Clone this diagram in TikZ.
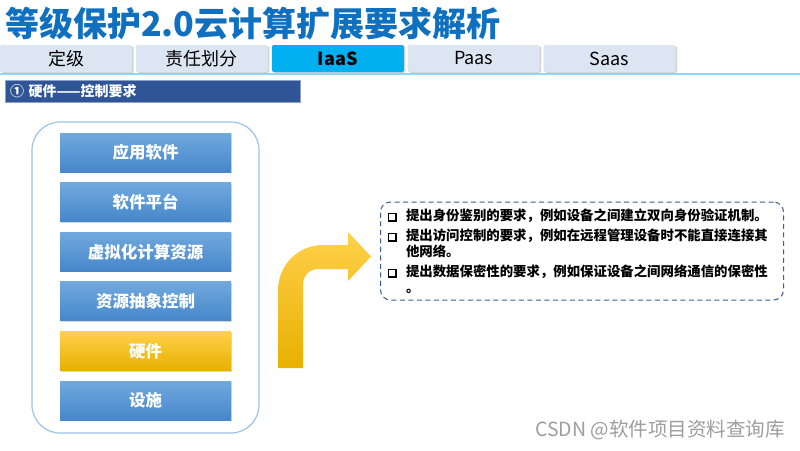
\documentclass[tikz,border=0pt]{standalone}
\usepackage{fontspec}
\setmainfont{Noto Sans CJK SC}
\usepackage{xcolor}
\usetikzlibrary{positioning, shadows}

\definecolor{titleblue}{RGB}{16,112,192}
\definecolor{tabgray}{RGB}{220,230,242}
\definecolor{tabcyan}{RGB}{0,176,240}
\definecolor{tabline}{RGB}{146,213,243}
\definecolor{secblue}{RGB}{47,85,151}
\definecolor{frameblue}{RGB}{157,195,230}
\definecolor{laytop}{RGB}{113,169,222}
\definecolor{laybot}{RGB}{70,134,202}
\definecolor{hottop}{RGB}{255,208,75}
\definecolor{hotbot}{RGB}{232,176,0}
\definecolor{dashblue}{RGB}{62,92,140}

\newcommand{\sqb}{\makebox[18pt][l]{\raisebox{-0.2pt}{\setlength{\fboxsep}{0pt}\setlength{\fboxrule}{1.4pt}\fbox{\rule{0pt}{6pt}\hspace{6pt}}}}}

\tikzset{
    tab/.style={rectangle, fill=tabgray, rounded corners=1.5pt, minimum width=132pt, minimum height=27pt, inner sep=0pt, text=black, font=\fontsize{18}{18}\selectfont, drop shadow={opacity=0.35, shadow xshift=1.5pt, shadow yshift=-1pt}},
    tabon/.style={tab, fill=tabcyan, font=\bfseries\fontsize{18}{18}\selectfont},
    secbar/.style={rectangle, fill=secblue, draw=secblue!55!white, minimum width=295pt, minimum height=22pt, text width=285pt, inner xsep=5pt, align=left, text=white, font=\bfseries\fontsize{14}{14}\selectfont},
    layer/.style={rectangle, top color=laytop, bottom color=laybot, draw=none, minimum width=171pt, minimum height=39pt, text=white, font=\bfseries\fontsize{16.5}{16.5}\selectfont, drop shadow={opacity=0.3, shadow xshift=0.8pt, shadow yshift=-1.2pt}},
    hot/.style={top color=hottop, bottom color=hotbot},
    stackframe/.style={rectangle, draw=frameblue, line width=1.2pt, fill=white, rounded corners=28pt, minimum width=227pt, minimum height=311pt},
    reqbox/.style={rectangle, draw=dashblue, line width=1pt, dash pattern=on 5pt off 3.5pt, rounded corners=10pt, minimum width=403pt, minimum height=98pt, text width=388pt, align=left, font=\bfseries\fontsize{13.4}{16}\selectfont}
}

\begin{document}
\begin{tikzpicture}[x=1pt, y=-1pt]
    \fill[white] (0,0) rectangle (800,450);
    \useasboundingbox (0,0) rectangle (800,450);

    \node (title) [anchor=west, inner sep=0pt, text=titleblue, font=\bfseries\fontsize{34}{34}\selectfont] at (5,24) {等级保护2.0云计算扩展要求解析};

    \node (t1) [tab] at (66,58.5) {定级};
    \node (t2) [tab, right=3.5pt of t1] {责任划分};
    \node (t3) [tabon, right=3.5pt of t2] {IaaS};
    \node (t4) [tab, right=3.5pt of t3] {Paas};
    \node (t5) [tab, right=3.5pt of t4] {Saas};
    \draw [tabline, line width=2.5pt] (0,74) -- (800,74);

    \node (sec) [secbar] at (152.5,91) {① 硬件——控制要求};

    \node (stack) [stackframe] at (145.5,277.5) {};
    \node (app) [layer] at (145.5,152.5) {应用软件};
    \node (plat) [layer, below=10.2pt of app] {软件平台};
    \node (virt) [layer, below=10.2pt of plat] {虚拟化计算资源};
    \node (absctl) [layer, below=10.2pt of virt] {资源抽象控制};
    \node (hw) [layer, hot, below=10.2pt of absctl] {硬件};
    \node (fac) [layer, below=10.2pt of hw] {设施};

    % bent arrow
    \shade [top color=hottop, middle color=hottop!60!hotbot, bottom color=hotbot]
        (278,368) -- (278,290) .. controls (278,265.2) and (298.2,245) .. (323,245)
        -- (348,245) -- (348,232) -- (371,256.5) -- (348,281) -- (348,269) -- (318,269)
        .. controls (309.7,269) and (303,275.7) .. (303,284) -- (303,368) -- cycle;

    \node (req) [reqbox] at (582,251) {%
        \sqb 提出身份鉴别的要求，例如设备之间建立双向身份验证机制。\\[4pt]
        \sqb 提出访问控制的要求，例如在远程管理设备时不能直接连接其\\
        \hspace*{18pt}他网络。\\[4pt]
        \sqb 提出数据保密性的要求，例如保证设备之间网络通信的保密性\\
        \hspace*{18pt}。};

    \node (mark) [anchor=east, inner sep=0pt, text=black!38, font=\fontsize{19.5}{19.5}\selectfont] at (785,430) {CSDN @软件项目资料查询库};
\end{tikzpicture}
\end{document}
